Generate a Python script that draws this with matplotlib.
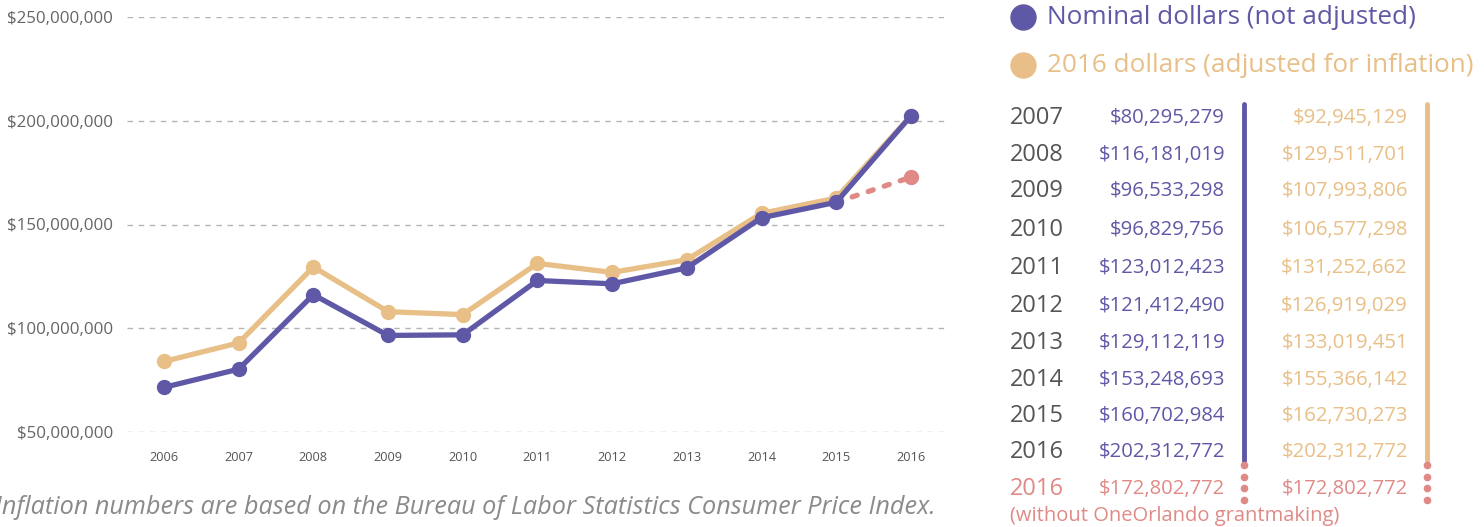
import matplotlib
matplotlib.use("Agg")
import matplotlib.pyplot as plt
from matplotlib.ticker import FuncFormatter

years = [2006, 2007, 2008, 2009, 2010, 2011, 2012, 2013, 2014, 2015, 2016]
nominal = [71.5e6, 80295279, 116181019, 96533298, 96829756, 123012423,
           121412490, 129112119, 153248693, 160702984, 202312772]
adjusted = [84.0e6, 92945129, 129511701, 107993806, 106577298, 131252662,
            126919029, 133019451, 155366142, 162730273, 202312772]
without_year = 2016
without_value = 172802772
yticks = [50e6, 100e6, 150e6, 200e6, 250e6]

PURPLE = "#5f58a6"
TAN = "#e8bf86"
RED = "#df8a86"
GRID = "#b5b5b5"
FONT = "Open Sans"

W, H = 1484, 527
fig = plt.figure(figsize=(W / 100, H / 100), dpi=100)
ax = fig.add_axes([127 / W, (H - 432) / H, (946 - 127) / W, (432 - 17) / H])

ax.plot(years, adjusted, color=TAN, lw=3.8, marker="o", ms=10, zorder=3,
        solid_joinstyle="round", solid_capstyle="round")
ax.plot([years[-2], without_year], [nominal[-2], without_value], color=RED,
        lw=3.8, ls=(0, (1.0, 2.2)), dash_capstyle="round", zorder=2)
ax.plot([without_year], [without_value], "o", color=RED, ms=10, zorder=2)
ax.plot(years, nominal, color=PURPLE, lw=3.8, marker="o", ms=10, zorder=4,
        solid_joinstyle="round", solid_capstyle="round")

ax.set_xlim(2005.505, 2016.47)
ax.set_ylim(50e6, 250e6)
ax.set_yticks(yticks)
ax.yaxis.set_major_formatter(FuncFormatter(lambda v, p: f"${v:,.0f}"))
ax.set_xticks(years)
ax.set_xticklabels([str(y) for y in years])
ax.grid(axis="y", color=GRID, ls=(0, (4, 4)), lw=1)
ax.set_axisbelow(True)
for s in ax.spines.values():
    s.set_visible(False)
ax.tick_params(axis="y", length=0, pad=10, labelsize=12.2, labelcolor="#666666")
ax.tick_params(axis="x", length=0, pad=14, labelsize=9.2, labelcolor="#555555")
for t in ax.get_yticklabels() + ax.get_xticklabels():
    t.set_fontfamily(FONT)

# footnote
fig.text(936 / W, 1 - 507 / H,
         "Inflation numbers are based on the Bureau of Labor Statistics Consumer Price Index.",
         ha="right", va="center", fontsize=18.2, style="italic", color="#8a8a8a",
         family=FONT)

# right panel overlay in pixel coordinates
ov = fig.add_axes([0, 0, 1, 1])
ov.set_xlim(0, W)
ov.set_ylim(H, 0)
ov.axis("off")

ov.plot([1023], [17], "o", color=PURPLE, ms=18)
ov.text(1047, 17, "Nominal dollars (not adjusted)", color=PURPLE, fontsize=18.8,
        va="center", ha="left", family=FONT)
ov.plot([1023], [65], "o", color=TAN, ms=18)
ov.text(1047, 65, "2016 dollars (adjusted for inflation)", color=TAN, fontsize=18.8,
        va="center", ha="left", family=FONT)

row_y = [118, 155, 191, 230, 268, 306, 343, 380, 416, 452]
for yr, n, a, ry in zip(years[1:], nominal[1:], adjusted[1:], row_y):
    ov.text(1010, ry, str(yr), color="#555555", fontsize=17, va="center", ha="left", family=FONT)
    ov.text(1225, ry, f"${n:,.0f}", color=PURPLE, fontsize=14.6, va="center", ha="right", family=FONT)
    ov.text(1408, ry, f"${a:,.0f}", color=TAN, fontsize=14.6, va="center", ha="right", family=FONT)
ry = 489
ov.text(1010, ry, str(without_year), color=RED, fontsize=17, va="center", ha="left", family=FONT)
ov.text(1225, ry, f"${without_value:,.0f}", color=RED, fontsize=14.6, va="center", ha="right", family=FONT)
ov.text(1408, ry, f"${without_value:,.0f}", color=RED, fontsize=14.6, va="center", ha="right", family=FONT)
ov.text(1010, 516, "(without OneOrlando grantmaking)", color=RED, fontsize=14.5,
        va="center", ha="left", family=FONT)

for bx, col in [(1244, PURPLE), (1427, TAN)]:
    ov.plot([bx, bx], [104, 461], color=col, lw=3.5, solid_capstyle="round")
    ov.plot([bx] * 4, [465, 477, 488, 500], "o", color=RED, ms=4.5)

fig.savefig("out.png", dpi=100)
